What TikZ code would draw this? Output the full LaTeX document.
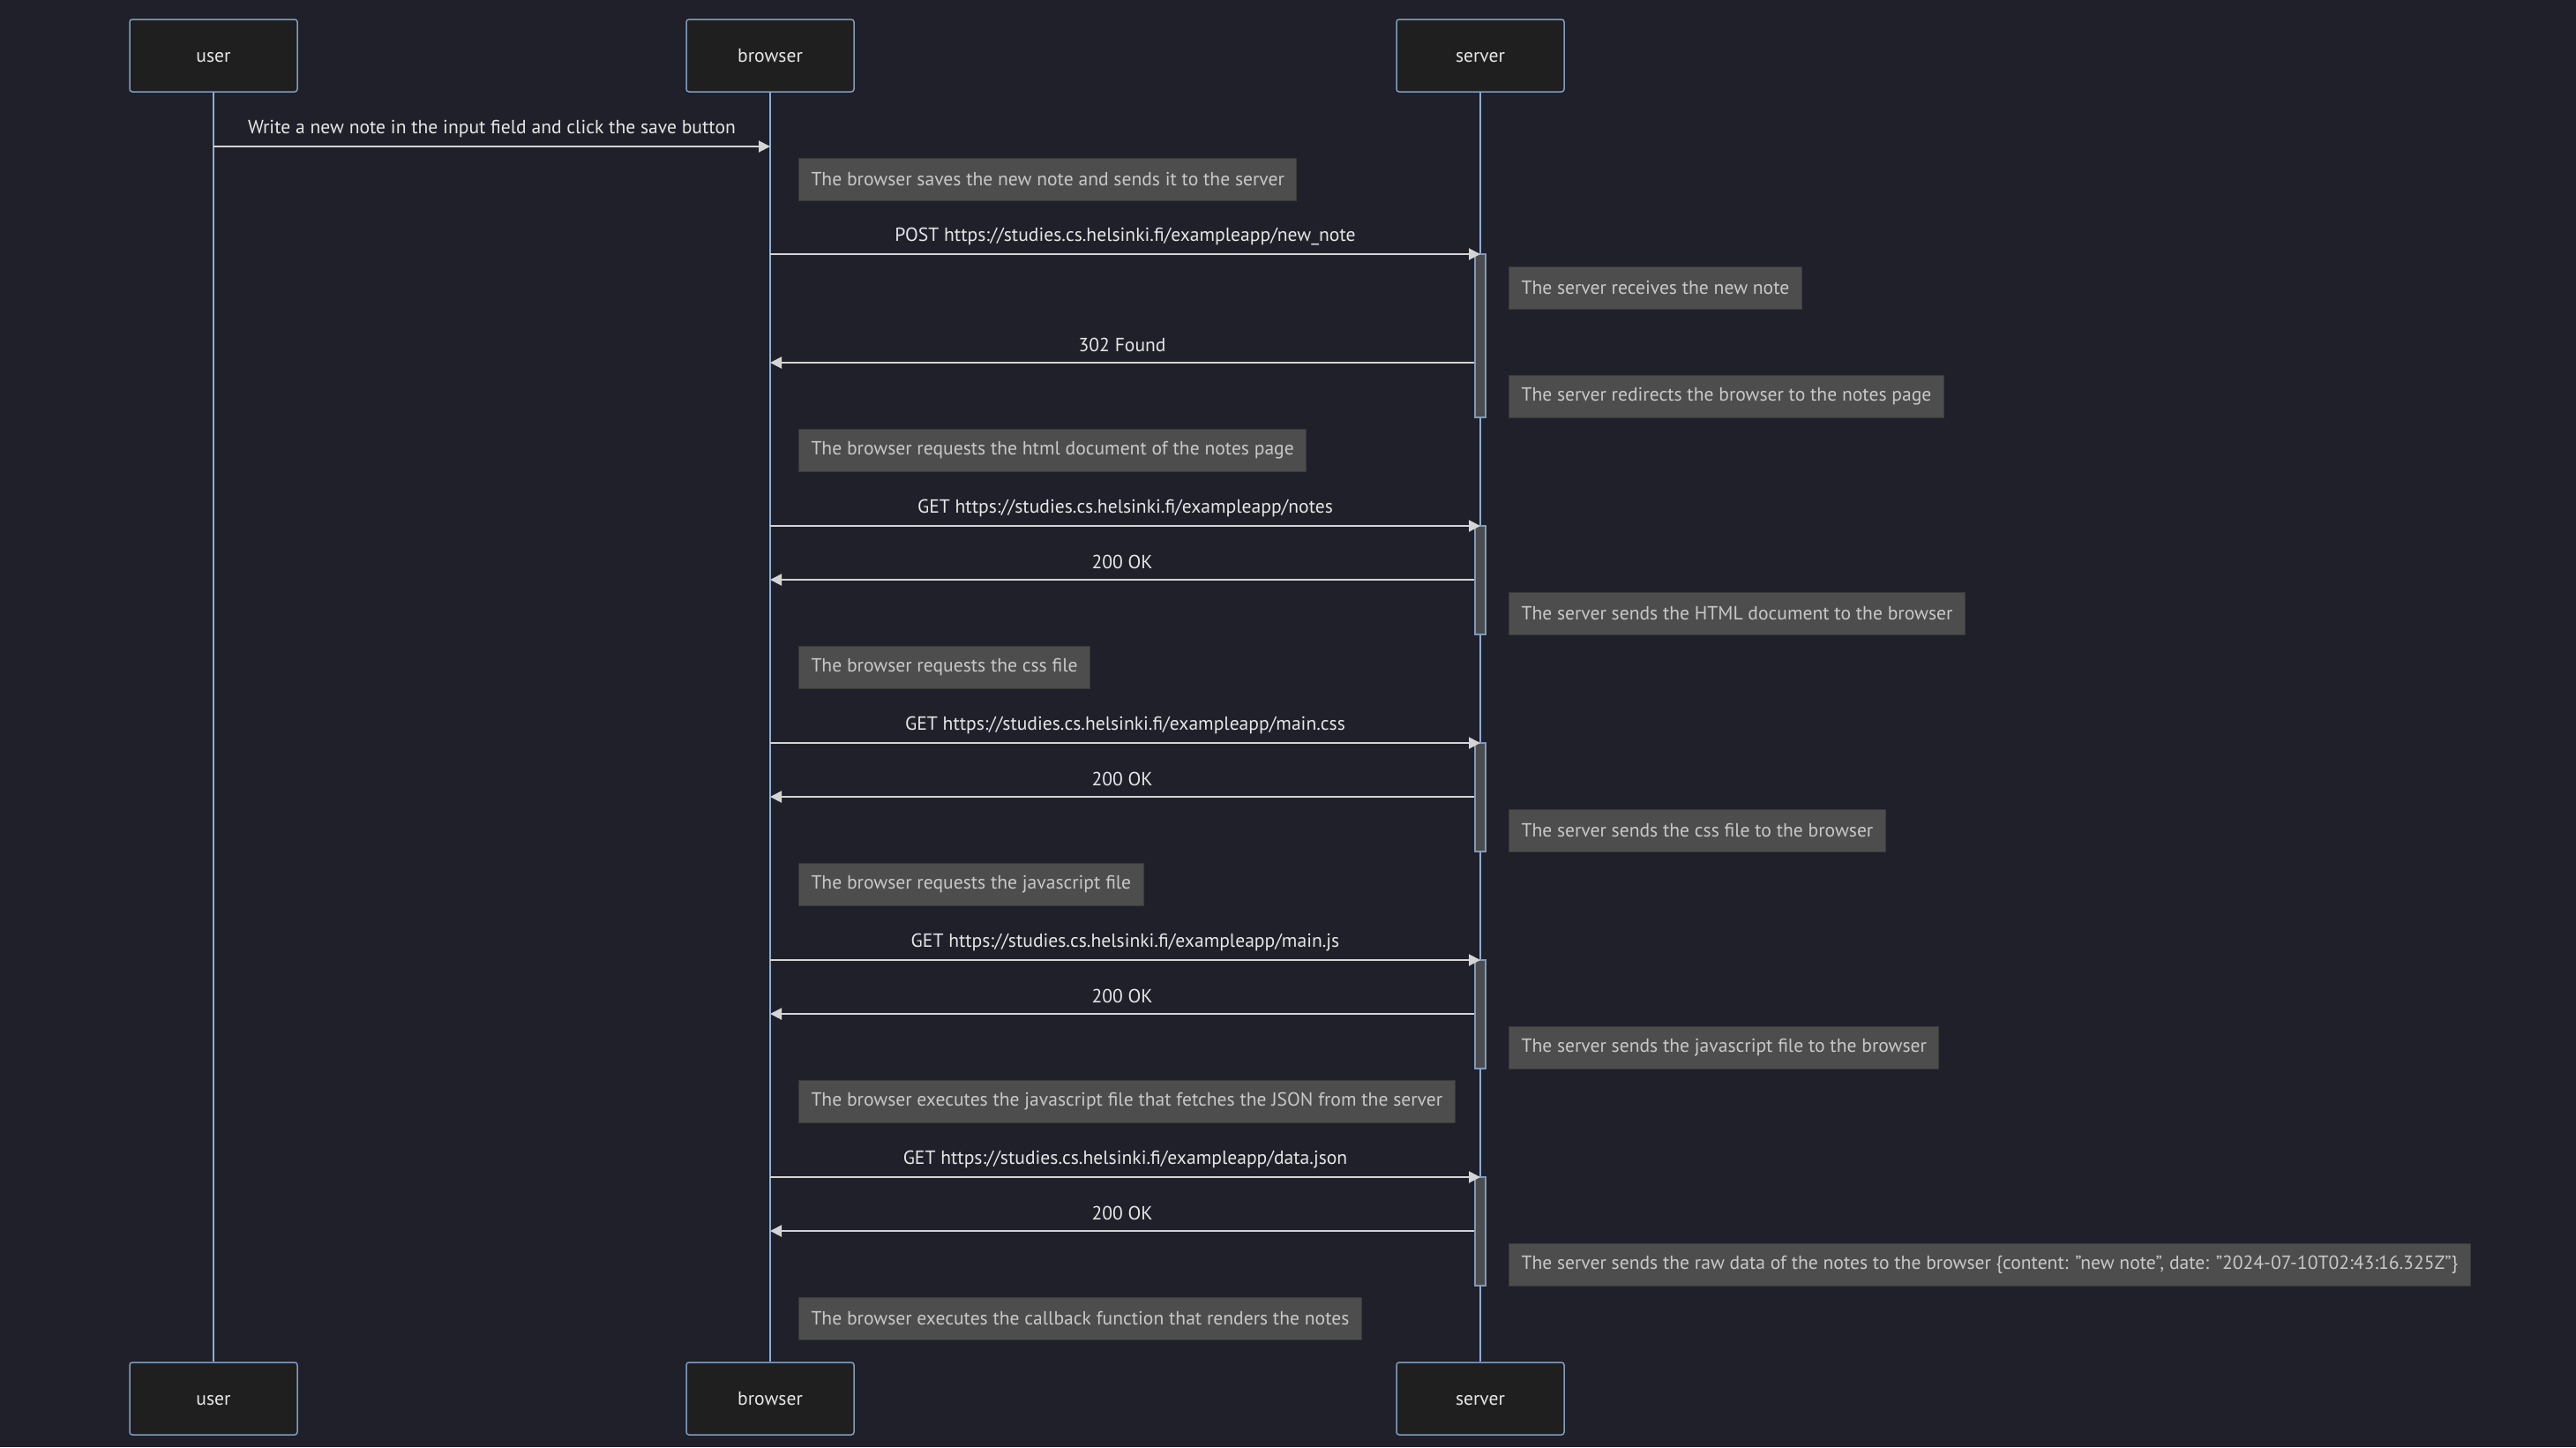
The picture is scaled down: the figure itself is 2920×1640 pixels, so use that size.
\documentclass[tikz,border=0pt]{standalone}
\usepackage{fontspec}
\setmainfont{PT Sans}
\usetikzlibrary{arrows.meta}
\definecolor{bg}{HTML}{1F2029}
\definecolor{boxfill}{HTML}{1F1F1F}
\definecolor{boxline}{HTML}{7F9CC0}
\definecolor{lifeline}{HTML}{8AAED6}
\definecolor{notefill}{HTML}{4D4D4D}
\definecolor{noteline}{HTML}{3A3A3A}
\definecolor{notetext}{HTML}{C8C8C8}
\definecolor{msgline}{HTML}{D4D4D4}
\definecolor{msgtext}{HTML}{E6E6E6}
\definecolor{actfill}{HTML}{4A4C50}
\definecolor{actline}{HTML}{7F9ABA}
\begin{document}
\begin{tikzpicture}[x=0.5pt,y=-0.5pt,font=\fontsize{10.8}{13}\selectfont,
  actor/.style={draw=boxline,fill=boxfill,line width=0.75pt,rounded corners=1.5pt,minimum width=95pt,minimum height=41pt,text=msgtext,inner sep=0pt,text height=1.6ex,text depth=0.15ex},
  life/.style={draw=lifeline,line width=0.75pt},
  note/.style={draw=noteline,fill=notefill,line width=0.5pt,text=notetext,minimum height=24pt,inner xsep=7pt,inner ysep=0pt,anchor=west},
  msg/.style={draw=msgline,line width=1pt,-{Triangle[length=6.5pt,width=6.5pt]}},
  lbl/.style={text=msgtext,inner sep=0pt,midway,yshift=10pt},
  act/.style={draw=actline,fill=actfill,line width=0.75pt,minimum width=6pt,inner sep=0pt}
]
\fill[bg] (0,0) rectangle (2920,1640);
\useasboundingbox (0,0) rectangle (2920,1640);
% participants
\node[actor] (ut) at (242,63) {user};
\node[actor] (bt) at (873,63) {browser};
\node[actor] (st) at (1678,63) {server};
\node[actor] (ub) at (242,1585) {user};
\node[actor] (bb) at (873,1585) {browser};
\node[actor] (sb) at (1678,1585) {server};
% lifelines
\draw[life] (ut.south) -- (ub.north);
\draw[life] (bt.south) -- (bb.north);
\draw[life] (st.south) -- (sb.north);
% activations
\node[act,minimum height=92.5pt] (a1) at (1678,380.5) {};
\node[act,minimum height=61.5pt] (a2) at (1678,657.5) {};
\node[act,minimum height=61.5pt] (a3) at (1678,903.5) {};
\node[act,minimum height=61.5pt] (a4) at (1678,1149.5) {};
\node[act,minimum height=61.5pt] (a5) at (1678,1395.5) {};
% coordinates on lifelines
\coordinate (u0) at (242,166);  \coordinate (b0) at (873,166);
\coordinate (b1) at (873,288);  \coordinate (s1) at (1678,288);
\coordinate (r1) at (873,411);  \coordinate (q1) at (a1.west |- r1);
\coordinate (b2) at (873,596);  \coordinate (s2) at (1678,596);
\coordinate (r2) at (873,657);  \coordinate (q2) at (a2.west |- r2);
\coordinate (b3) at (873,842);  \coordinate (s3) at (1678,842);
\coordinate (r3) at (873,903);  \coordinate (q3) at (a3.west |- r3);
\coordinate (b4) at (873,1088); \coordinate (s4) at (1678,1088);
\coordinate (r4) at (873,1149); \coordinate (q4) at (a4.west |- r4);
\coordinate (b5) at (873,1334); \coordinate (s5) at (1678,1334);
\coordinate (r5) at (873,1395); \coordinate (q5) at (a5.west |- r5);
% messages
\draw[msg] (u0) -- (b0) node[lbl] {Write a new note in the input field and click the save button};
\draw[msg] (b1) -- (s1) node[lbl] {POST https://studies.cs.helsinki.fi/exampleapp/new\_note};
\draw[msg] (q1) -- (r1) node[lbl] {302 Found};
\draw[msg] (b2) -- (s2) node[lbl] {GET https://studies.cs.helsinki.fi/exampleapp/notes};
\draw[msg] (q2) -- (r2) node[lbl] {200 OK};
\draw[msg] (b3) -- (s3) node[lbl] {GET https://studies.cs.helsinki.fi/exampleapp/main.css};
\draw[msg] (q3) -- (r3) node[lbl] {200 OK};
\draw[msg] (b4) -- (s4) node[lbl] {GET https://studies.cs.helsinki.fi/exampleapp/main.js};
\draw[msg] (q4) -- (r4) node[lbl] {200 OK};
\draw[msg] (b5) -- (s5) node[lbl] {GET https://studies.cs.helsinki.fi/exampleapp/data.json};
\draw[msg] (q5) -- (r5) node[lbl] {200 OK};
% notes
\node[note] (n1) at (905,203) {The browser saves the new note and sends it to the server};
\node[note] (n2) at (1710,326) {The server receives the new note};
\node[note] (n3) at (1710,449) {The server redirects the browser to the notes page};
\node[note] (n4) at (905,510) {The browser requests the html document of the notes page};
\node[note] (n5) at (1710,695) {The server sends the HTML document to the browser};
\node[note] (n6) at (905,756) {The browser requests the css file};
\node[note] (n7) at (1710,941) {The server sends the css file to the browser};
\node[note] (n8) at (905,1002) {The browser requests the javascript file};
\node[note] (n9) at (1710,1187) {The server sends the javascript file to the browser};
\node[note] (n10) at (905,1248) {The browser executes the javascript file that fetches the JSON from the server};
\node[note] (n11) at (1710,1433) {The server sends the raw data of the notes to the browser \{content: "new note", date: "2024-07-10T02:43:16.325Z"\}};
\node[note] (n12) at (905,1494) {The browser executes the callback function that renders the notes};
\end{tikzpicture}
\end{document}
